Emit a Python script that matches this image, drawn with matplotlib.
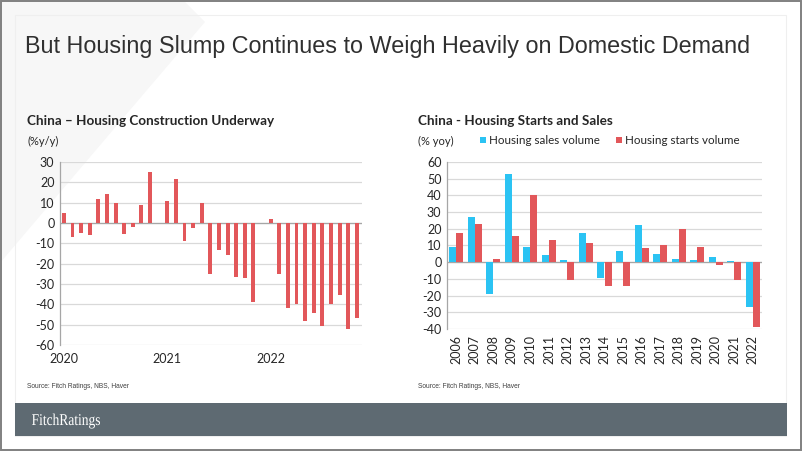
import matplotlib
matplotlib.use("Agg")
import matplotlib.pyplot as plt
import numpy as np
from matplotlib.patches import Rectangle, Polygon, PathPatch
from matplotlib.textpath import TextPath
from matplotlib.font_manager import FontProperties
from matplotlib.transforms import Affine2D

# ---------------- data ----------------
# Left: China housing construction underway, % y/y, monthly Jan 2020 - Nov 2022
construction_yoy = [5, -7, -5, -6, 12, 14.5, 10, -5.5, -2, 9, 25, np.nan,
                    11, 21.5, -9, -2.7, 9.8, -25.2, -13.4, -15.5, -26.5, -27, -39, np.nan,
                    1.8, -25, -42, -40, -48.3, -44.2, -50.6, -39.6, -35.4, -52.2, -46.5]
construction_year_labels = ["2020", "2021", "2022"]
construction_year_index = [0, 12, 24]

# Right: China housing starts and sales, % yoy
years = ["2006", "2007", "2008", "2009", "2010", "2011", "2012", "2013", "2014",
         "2015", "2016", "2017", "2018", "2019", "2020", "2021", "2022"]
sales_volume = [9.2, 27, -19, 52.6, 9.2, 4.2, 1.4, 17.5, -9.2, 6.8, 22.3, 5, 2.2, 1.4, 3.2, 1, -26.7]
starts_volume = [17.7, 23, 2.2, 15.7, 40, 13, -10.6, 11.5, -14.3, -14.5, 8.6, 10.4, 20, 9.2, -1.8, -10.8, -38.6]

RED = "#e2575a"
BLUE = "#2bc3f3"
GRID = "#d9d9d9"
TXT = "#262626"

W, H = 802, 451
fig = plt.figure(figsize=(W / 100, H / 100), dpi=100)
fig.patch.set_facecolor("white")

def px(x, y):
    return x / W, 1 - y / H

# background decoration
bg = fig.add_axes([0, 0, 1, 1])
bg.set_xlim(0, W)
bg.set_ylim(H, 0)
bg.axis("off")
bg.add_patch(Polygon([(0, 0), (183, 0), (205, 22), (130, 110), (0, 263)], closed=True,
                     facecolor="#f7f7f7", edgecolor="none"))
bg.add_patch(Rectangle((15, 15), 771, 421, facecolor="none", edgecolor="#efefef", lw=0.8))
bg.add_patch(Rectangle((0.8, 0.8), W - 2.2, H - 2.2, facecolor="none", edgecolor="#808080", lw=1.4))
bg.add_patch(Rectangle((15, 403), 772, 33, facecolor="#5e6a72", edgecolor="none"))

# condensed serif logo text
tp = TextPath((0, 0), "FitchRatings", size=16.5, prop=FontProperties(family="Liberation Serif"))
ext = tp.get_extents()
sx = 68.0 / ext.width
trans = Affine2D().translate(-ext.x0, 0).scale(sx, -1.0).translate(32, 425)
bg.add_patch(PathPatch(trans.transform_path(tp), facecolor="white", edgecolor="none", lw=0))

fig.text(*px(25, 47), "But Housing Slump Continues to Weigh Heavily on Domestic Demand",
         fontsize=16.8, family="Liberation Sans", color="#303030", va="center", ha="left")

fig.text(*px(27, 121), "China \u2013 Housing Construction Underway", fontsize=9.7, family="Lato",
         weight="bold", color=TXT, va="center", ha="left")
fig.text(*px(27, 141), "(%y/y)", fontsize=8, family="Lato", color=TXT, va="center", ha="left")
fig.text(*px(418, 121), "China - Housing Starts and Sales", fontsize=9.7, family="Lato",
         weight="bold", color=TXT, va="center", ha="left")
fig.text(*px(418, 141), "(% yoy)", fontsize=8, family="Lato", color=TXT, va="center", ha="left")
bg.add_patch(Rectangle((480, 137), 6, 6, facecolor=BLUE, edgecolor="none"))
fig.text(*px(489, 140), "Housing sales volume", fontsize=8.4, family="Lato", color=TXT,
         va="center", ha="left")
bg.add_patch(Rectangle((616, 137), 6, 6, facecolor=RED, edgecolor="none"))
fig.text(*px(625, 140), "Housing starts volume", fontsize=8.4, family="Lato", color=TXT,
         va="center", ha="left")

fig.text(*px(27, 386), "Source: Fitch Ratings, NBS, Haver", fontsize=4.8, family="Liberation Sans",
         color="#404040", va="center", ha="left")
fig.text(*px(418, 386), "Source: Fitch Ratings, NBS, Haver", fontsize=4.8, family="Liberation Sans",
         color="#404040", va="center", ha="left")

# ---------------- left chart ----------------
l, t, r, b = 60, 162, 362, 345
ax1 = fig.add_axes([l / W, 1 - b / H, (r - l) / W, (b - t) / H])
ax1.patch.set_alpha(0)
x1 = np.arange(len(construction_yoy))
ax1.bar(x1, construction_yoy, width=0.45, color=RED, zorder=3)
ax1.set_xlim(-0.45, 34.6)
ax1.set_ylim(-60, 30)
ax1.set_yticks(np.arange(-60, 31, 10))
ax1.set_yticklabels([str(v) for v in range(-60, 31, 10)])
ax1.set_xticks(construction_year_index)
ax1.set_xticklabels(construction_year_labels)
ax1.grid(axis="y", color=GRID, lw=0.9, zorder=0)
ax1.axhline(0, color="#a6a6a6", lw=0.9, zorder=2)
for s in ["top", "right", "bottom"]:
    ax1.spines[s].set_visible(False)
ax1.spines["left"].set_color("#a6a6a6")
ax1.spines["left"].set_linewidth(0.9)
ax1.tick_params(axis="both", length=0, labelsize=9, labelcolor=TXT, pad=4)
for lab in ax1.get_xticklabels() + ax1.get_yticklabels():
    lab.set_family("Lato")
ax1.tick_params(axis="x", pad=6)

# ---------------- right chart ----------------
l, t, r, b = 447, 162, 762, 329
ax2 = fig.add_axes([l / W, 1 - b / H, (r - l) / W, (b - t) / H])
ax2.patch.set_alpha(0)
x2 = np.arange(len(years))
bw = 0.38
ax2.bar(x2 - bw / 2, sales_volume, width=bw, color=BLUE, zorder=3)
ax2.bar(x2 + bw / 2, starts_volume, width=bw, color=RED, zorder=3)
ax2.set_xlim(-0.5, 16.5)
ax2.set_ylim(-40, 60)
ax2.set_yticks(np.arange(-40, 61, 10))
ax2.set_yticklabels([str(v) for v in range(-40, 61, 10)])
ax2.set_xticks(x2)
ax2.set_xticklabels(years, rotation=90)
ax2.grid(axis="y", color=GRID, lw=0.9, zorder=0)
ax2.axhline(0, color="#a6a6a6", lw=0.9, zorder=2)
for s in ["top", "right", "bottom"]:
    ax2.spines[s].set_visible(False)
ax2.spines["left"].set_color("#a6a6a6")
ax2.spines["left"].set_linewidth(0.9)
ax2.tick_params(axis="both", length=0, labelsize=9, labelcolor=TXT, pad=4)
for lab in ax2.get_xticklabels() + ax2.get_yticklabels():
    lab.set_family("Lato")

fig.savefig("out.png", dpi=100, facecolor="white")
